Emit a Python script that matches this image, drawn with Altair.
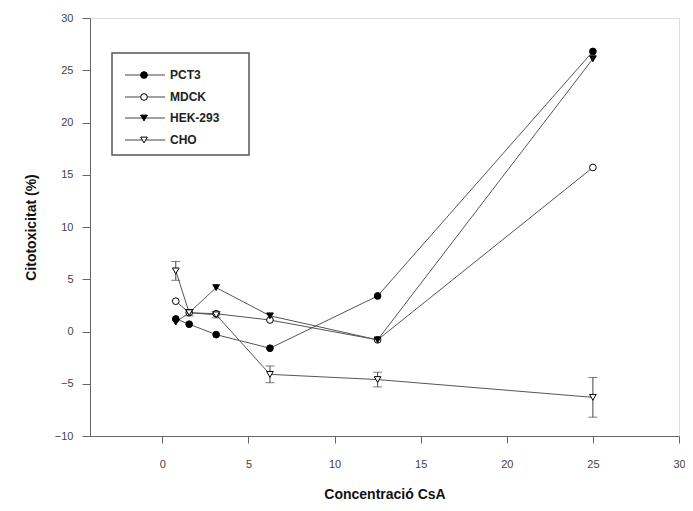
import altair as alt
import pandas as pd

conc = [0.78, 1.56, 3.125, 6.25, 12.5, 25]
series_names = ["PCT3", "MDCK", "HEK-293", "CHO"]
pct3 = [1.2, 0.7, -0.3, -1.6, 3.4, 26.8]
mdck = [2.9, 1.8, 1.7, 1.1, -0.8, 15.7]
hek = [0.9, 1.8, 4.2, 1.5, -0.8, 26.1]
cho = [5.8, 1.8, 1.6, -4.1, -4.6, -6.3]
cho_err = [0.9, 0.3, 0.3, 0.8, 0.7, 1.9]

rows = []
for name, vals in zip(series_names, [pct3, mdck, hek, cho]):
    for i, (c, v) in enumerate(zip(conc, vals)):
        err = cho_err[i] if name == "CHO" else 0.0
        rows.append({"conc": c, "val": v, "series": name, "lo": v - err, "hi": v + err})
df = pd.DataFrame(rows)
err_df = df[df["series"] == "CHO"]

FONT = "Liberation Sans"
W, H = 589, 418
xs = alt.Scale(domain=[-4.2, 30], nice=False, zero=False)
ys = alt.Scale(domain=[-10, 30], nice=False, zero=False)

shape_scale = alt.Scale(domain=series_names,
                        range=["circle", "circle", "triangle-down", "triangle-down"])
fill_scale = alt.Scale(domain=series_names,
                       range=["black", "white", "black", "white"])

x_enc = alt.X("conc:Q", scale=xs, title="Concentració CsA",
              axis=alt.Axis(values=[0, 5, 10, 15, 20, 25, 30], grid=False, labelFlush=False,
                            tickSize=7, labelPadding=15, titlePadding=18,
                            labelFontSize=11, titleFontSize=14, titleFontWeight="bold",
                            labelColor="#444", titleColor="#111",
                            domainColor="#666", tickColor="#666", labelFont=FONT, titleFont=FONT))
y_enc = alt.Y("val:Q", scale=ys, title="Citotoxicitat (%)",
              axis=alt.Axis(values=list(range(-10, 31, 5)), grid=False, labelFlush=False,
                            tickSize=8, labelPadding=9, titlePadding=16,
                            labelFontSize=11, titleFontSize=14, titleFontWeight="bold",
                            labelColor="#444", titleColor="#111",
                            domainColor="#666", tickColor="#666", labelFont=FONT, titleFont=FONT))

lines = alt.Chart(df).mark_line(color="#555", strokeWidth=1).encode(
    x=x_enc, y=y_enc, detail="series:N")

err_rule = alt.Chart(err_df).mark_rule(color="#444", strokeWidth=1).encode(
    x=alt.X("conc:Q", scale=xs), y=alt.Y("lo:Q", scale=ys), y2="hi:Q")
err_lo = alt.Chart(err_df).mark_tick(color="#444", thickness=1, size=9, orient="horizontal").encode(
    x=alt.X("conc:Q", scale=xs), y=alt.Y("lo:Q", scale=ys))
err_hi = alt.Chart(err_df).mark_tick(color="#444", thickness=1, size=9, orient="horizontal").encode(
    x=alt.X("conc:Q", scale=xs), y=alt.Y("hi:Q", scale=ys))

points = alt.Chart(df).mark_point(size=45, stroke="black", strokeWidth=1, opacity=1,
                                  filled=False).encode(
    x=alt.X("conc:Q", scale=xs), y=alt.Y("val:Q", scale=ys),
    shape=alt.Shape("series:N", scale=shape_scale, legend=None),
    fill=alt.Fill("series:N", scale=fill_scale, legend=None))

# manual legend (decoration)
leg_layers = []
frame = alt.Chart(pd.DataFrame({"a": [0]})).mark_rect(
    fill="white", stroke="#555", strokeWidth=1.5).encode(
    x=alt.value(22), x2=alt.value(159), y=alt.value(35), y2=alt.value(137))
leg_layers.append(frame)
row_y = [57, 79, 100, 122]
shapes = ["circle", "circle", "triangle-down", "triangle-down"]
fills = ["black", "white", "black", "white"]
for name, yy, shp, fl in zip(series_names, row_y, shapes, fills):
    d = pd.DataFrame({"series": [name]})
    leg_layers.append(alt.Chart(d).mark_rule(color="#444", strokeWidth=1).encode(
        x=alt.value(35), x2=alt.value(75), y=alt.value(yy)))
    leg_layers.append(alt.Chart(d).mark_point(shape=shp, size=45, fill=fl, stroke="black",
                                              strokeWidth=1, opacity=1).encode(
        x=alt.value(54), y=alt.value(yy)))
    leg_layers.append(alt.Chart(d).mark_text(align="left", baseline="middle", font=FONT,
                                             fontSize=12, fontWeight="bold", color="#222").encode(
        x=alt.value(80), y=alt.value(yy), text="series:N"))

chart = alt.layer(lines, err_rule, err_lo, err_hi, points, *leg_layers).properties(
    width=W, height=H,
    autosize=alt.AutoSizeParams(type="none"),
    padding={"left": 82, "top": 10, "right": 6, "bottom": 66},
).configure_view(stroke="#666", strokeWidth=1).configure(background="white")

chart.save("out.html", embed_options={"renderer": "svg", "actions": False})
